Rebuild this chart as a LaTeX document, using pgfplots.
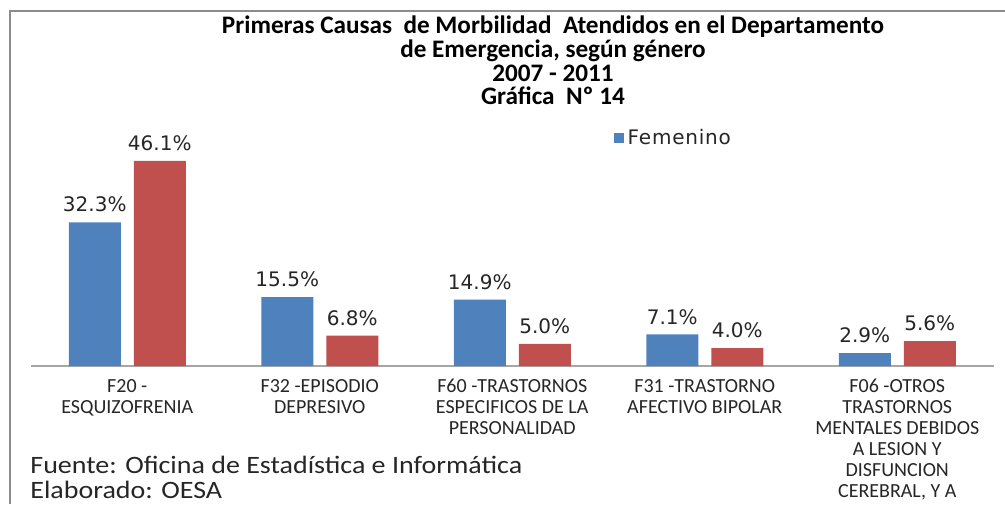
\documentclass[border=0pt]{standalone}
\usepackage{pgfplots}
\pgfplotsset{compat=1.18}
\usepackage{fontspec}
\setmainfont{Carlito}
\newfontfamily\dv{DejaVu Sans}
\newfontfamily\dvs[LetterSpace=4]{DejaVu Sans}
\newfontfamily\cw[FakeStretch=1.12]{Carlito}
\definecolor{exblue}{HTML}{4F81BD}
\definecolor{exred}{HTML}{C0504D}
\begin{document}
\begin{tikzpicture}[x=0.5pt,y=0.5pt]
\useasboundingbox (0,0) rectangle (1005,504);
\fill[white] (0,0) rectangle (1005,504);
\draw[black!45, line width=1pt] (10,0) -- (10,493) -- (1005,493);
\node[align=center, font=\bfseries\fontsize{12.6}{11.85}\selectfont, inner sep=0pt] at (553,443.5)
 {Primeras Causas\ \ de Morbilidad\ \ Atendidos en el Departamento\\de Emergencia,\ según género\\2007 - 2011\\Gráfica\ \ Nº 14};
\begin{axis}[
 at={(15.5pt,69pt)}, anchor=south west, scale only axis,
 width=481.25pt, height=111.25pt,
 xmin=-0.5, xmax=4.5, ymin=0, ymax=50,
 axis x line*=bottom, axis y line=none,
 x axis line style={draw=black!35, line width=1pt, -},
 xtick={0,1,2,3,4},
 xticklabels={{F20 -\\ESQUIZOFRENIA},{F32 -EPISODIO\\DEPRESIVO},{F60 -TRASTORNOS\\ESPECIFICOS DE LA\\PERSONALIDAD},{F31 -TRASTORNO\\AFECTIVO BIPOLAR},{F06 -OTROS\\TRASTORNOS\\MENTALES DEBIDOS\\A LESION Y\\DISFUNCION\\CEREBRAL, Y A}},
 major tick length=0pt,
 xticklabel style={font=\fontsize{10}{10.5}\selectfont, align=center, anchor=north, yshift=-3pt, text=black!85},
 ytick=\empty,
 ybar, bar width=26pt,
 nodes near coords={\pgfmathprintnumber[fixed,fixed zerofill,precision=1]{\pgfplotspointmeta}\%},
 nodes near coords style={font=\dv\fontsize{10}{12}\selectfont, text=black!85, anchor=south, yshift=1.5pt},
 /pgf/number format/assume math mode=true,
 legend style={draw=none, at={(0.605,1.025)}, anchor=west, font=\dvs\fontsize{10}{12}\selectfont, inner sep=0pt, text=black!85},
 legend image code/.code={\fill[#1] (-2.5pt,-2.5pt) rectangle (2.5pt,2.5pt);},
 clip=false,
]
\addplot[fill=exblue, draw=none, bar shift=-16.25pt] coordinates {(0,32.3) (1,15.5) (2,14.9) (3,7.1) (4,2.9)};
\addlegendentry{Femenino}
\addplot[fill=exred, draw=none, bar shift=16.25pt, forget plot] coordinates {(0,46.1) (1,6.8) (2,5.0) (3,4.0) (4,5.6)};
\end{axis}
\node[anchor=base west, inner sep=0pt, font=\cw\fontsize{12.5}{14}\selectfont, text=black!85] at (30,31) {Fuente: Oficina de Estadística e Informática};
\node[anchor=base west, inner sep=0pt, font=\cw\fontsize{12.5}{14}\selectfont, text=black!85] at (30,6) {Elaborado: OESA};
\end{tikzpicture}
\end{document}
